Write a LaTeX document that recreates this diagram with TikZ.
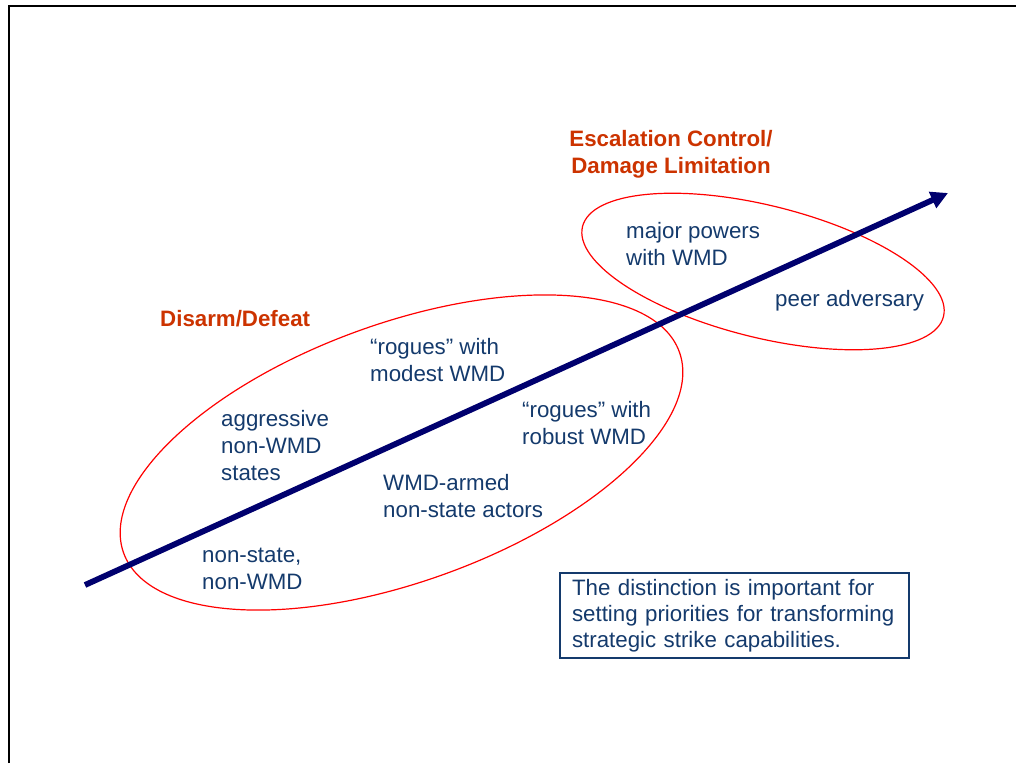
\documentclass[tikz,border=0pt]{standalone}
\usepackage{fontspec}
\setmainfont{Liberation Sans}
\usetikzlibrary{shapes.geometric,arrows.meta}
\definecolor{txtblue}{RGB}{20,58,108}
\definecolor{titlered}{RGB}{204,51,0}
\definecolor{arrownavy}{RGB}{0,0,110}
\definecolor{ringred}{RGB}{255,0,0}
\begin{document}
\begin{tikzpicture}[x=1pt,y=-1pt,
  lbl/.style={text=txtblue, font=\fontsize{22.3}{27}\selectfont, align=left, anchor=west, inner sep=0pt},
  ttl/.style={text=titlered, font=\fontsize{22.3}{27}\selectfont\bfseries, inner sep=0pt},
  ring/.style={draw=ringred, line width=1.2pt, ellipse, inner sep=0pt},
  notebox/.style={draw=txtblue, line width=1.3pt, text=txtblue, font=\fontsize{22.3}{26}\selectfont, align=left, text width=325pt, minimum width=349pt, minimum height=85pt, inner sep=0pt},
  axis/.style={draw=arrownavy, line width=5.8pt, -{Triangle[length=17pt,width=17pt]}}
]
\useasboundingbox (0,0) rectangle (1016,763);
% frame
\draw[line width=2pt] (9,763) -- (9,6) -- (1016,6);
% ellipses
\node[ring, minimum width=591pt, minimum height=258pt, rotate=19.9] (big) at (401.5,452.5) {};
\node[ring, minimum width=372pt, minimum height=132pt, rotate=-14] (small) at (763,271.5) {};
% arrow
\coordinate (start) at (85,585);
\coordinate (tip) at (948,193);
\draw[axis] (start) -- (tip);
% titles
\node[ttl, align=center] (esc) at (671,154.5) {Escalation Control/\\Damage Limitation};
\node[ttl, anchor=west] (dis) at (160,318.5) {Disarm/Defeat};
% labels
\node[lbl] (major) at (626,244.5) {major powers\\with WMD};
\node[lbl] (peer) at (775,300.5) {peer adversary};
\node[lbl] (modest) at (370,360.5) {“rogues” with\\modest WMD};
\node[lbl] (aggr) at (221,445.5) {aggressive\\non-WMD\\states};
\node[lbl] (robust) at (522,423.5) {“rogues” with\\robust WMD};
\node[lbl] (armed) at (383,496) {WMD-armed\\non-state actors};
\node[lbl] (nonstate) at (202,568.5) {non-state,\\non-WMD};
% note
\node[notebox] (note) at (734.5,615.5) {The distinction is important for setting priorities for transforming strategic strike capabilities.};
\end{tikzpicture}
\end{document}
